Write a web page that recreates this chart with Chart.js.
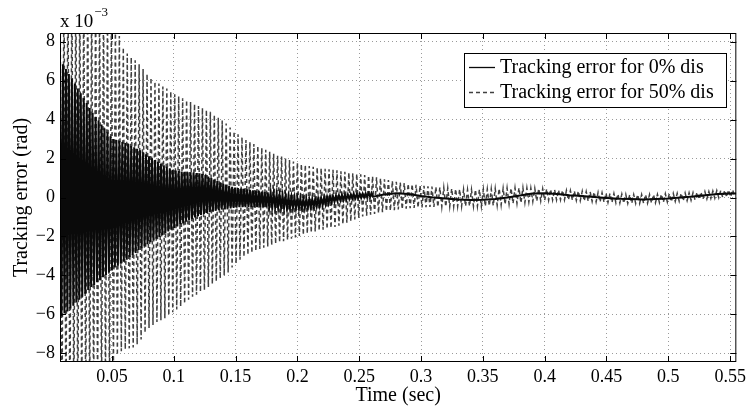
<!DOCTYPE html>
<html>
<head>
<meta charset="utf-8">
<script src="https://cdn.jsdelivr.net/npm/chart.js@4/dist/chart.umd.min.js"></script>
<style>
  html, body { margin: 0; padding: 0; background: #fff; }
  #wrap { width: 750px; height: 408px; }
</style>
</head>
<body>
<div id="wrap"><canvas id="errChart" width="750" height="408"></canvas></div>
<script>
// tracking error, units of 1e-3 rad

// 0% disturbance: oscillating part, a peak every 1.2 ms from t = 0.008 s
const solidStart = 0.008;
const solidStep = 0.0012;
const solidDense = [
  7.1, -6.1, 6.85, -5.95, 6.6, -5.85, 6.35, -5.7, 6.1, -5.55,
  5.85, -5.4, 5.6, -5.25, 5.35, -5.1, 5.1, -4.95, 4.85, -4.75,
  4.6, -4.6, 4.35, -4.5, 4.15, -4.35, 3.95, -4.25, 3.75, -4.1,
  3.55, -4.0, 3.35, -3.85, 3.15, -3.75, 3.0, -3.6, 2.95, -3.5,
  2.9, -3.4, 2.85, -3.3, 2.8, -3.2, 2.75, -3.05, 2.65, -2.95,
  2.58, -2.85, 2.5, -2.7, 2.42, -2.6, 2.32, -2.5, 2.22, -2.4,
  2.12, -2.3, 2.02, -2.2, 1.93, -2.12, 1.84, -2.03, 1.74, -1.94,
  1.65, -1.85, 1.58, -1.75, 1.5, -1.66, 1.43, -1.57, 1.39, -1.48,
  1.36, -1.4, 1.34, -1.33, 1.32, -1.25, 1.3, -1.18, 1.29, -1.1,
  1.28, -1.03, 1.26, -0.96, 1.24, -0.9, 1.2, -0.85, 1.15, -0.8,
  1.08, -0.75, 1.0, -0.72, 0.92, -0.68, 0.85, -0.65, 0.78, -0.62,
  0.7, -0.6, 0.65, -0.58, 0.6, -0.56, 0.55, -0.54, 0.51, -0.52,
  0.48, -0.5, 0.46, -0.5, 0.44, -0.5, 0.42, -0.5, 0.4, -0.5,
  0.37, -0.5, 0.35, -0.5, 0.33, -0.5, 0.3, -0.5, 0.28, -0.5,
  0.26, -0.5, 0.23, -0.5, 0.2, -0.51, 0.17, -0.52, 0.13, -0.53,
  0.1, -0.54, 0.07, -0.55, 0.04, -0.55, 0.02, -0.55, 0.0, -0.55,
  -0.03, -0.55, -0.05, -0.55, -0.07, -0.54, -0.08, -0.53, -0.09, -0.51,
  -0.08, -0.49, -0.07, -0.46, -0.05, -0.43, -0.02, -0.39, 0.0, -0.35,
  0.03, -0.3, 0.05, -0.26, 0.07, -0.22, 0.09, -0.18, 0.11, -0.15,
  0.13, -0.13, 0.14, -0.11, 0.15, -0.08, 0.16, -0.06, 0.17, -0.05,
  0.18, -0.03, 0.19, -0.02, 0.2, 0.0, 0.21, 0.02, 0.22, 0.03,
  0.23, 0.04
];
// 0% disturbance: settled part
const solidTailTimes = [
  0.27, 0.28, 0.29, 0.30, 0.31, 0.32, 0.33, 0.34, 0.35, 0.36,
  0.37, 0.38, 0.39, 0.40, 0.41, 0.42, 0.43, 0.44, 0.45, 0.46,
  0.47, 0.48, 0.49, 0.50, 0.51, 0.52, 0.53, 0.54, 0.55, 0.555
];
const solidTailValues = [
  0.15, 0.22, 0.18, 0.08, 0.0, -0.05, -0.1, -0.13, -0.12, -0.08,
  0.0, 0.1, 0.2, 0.22, 0.18, 0.12, 0.08, 0.03, -0.02, -0.06,
  -0.08, -0.1, -0.08, -0.05, 0.0, 0.05, 0.12, 0.18, 0.2, 0.2
];

// 50% disturbance: a peak every 1.6 ms from t = 0.008 s
const dashStart = 0.008;
const dashStep = 0.0016;
const dashedValues = [
  12, -12, 12, -12, 12, -12, 11.5, -11.5, 11.5, -11.5,
  11, -11, 11, -11, 11, -10.5, 10.5, -10.5, 10.5, -10,
  10, -10, 10, -9.5, 9.5, -9.5, 9.5, -8.8, 8.8, -8.1,
  8.3, -7.9, 7.7, -7.8, 7.4, -7.75, 7.2, -7.7, 7.05, -7.55,
  6.85, -7.3, 6.6, -6.95, 6.35, -6.7, 6.15, -6.55, 5.95, -6.4,
  5.85, -6.3, 5.7, -6.2, 5.6, -6.05, 5.45, -5.9, 5.3, -5.75,
  5.2, -5.6, 5.1, -5.45, 5.0, -5.25, 4.9, -5.1, 4.8, -5.0,
  4.7, -4.85, 4.6, -4.75, 4.5, -4.6, 4.4, -4.45, 4.25, -4.3,
  4.1, -4.15, 3.95, -4.0, 3.8, -3.85, 3.6, -3.6, 3.4, -3.4,
  3.25, -3.2, 3.1, -3.05, 2.95, -2.95, 2.85, -2.85, 2.75, -2.75,
  2.65, -2.65, 2.55, -2.58, 2.45, -2.52, 2.35, -2.45, 2.25, -2.38,
  2.15, -2.3, 2.1, -2.25, 2.0, -2.18, 1.92, -2.12, 1.85, -2.05,
  1.8, -1.98, 1.72, -1.92, 1.68, -1.85, 1.62, -1.8, 1.58, -1.75,
  1.55, -1.7, 1.5, -1.66, 1.48, -1.62, 1.45, -1.57, 1.43, -1.52,
  1.4, -1.45, 1.35, -1.37, 1.32, -1.3, 1.28, -1.22, 1.25, -1.13,
  1.22, -1.05, 1.19, -0.98, 1.16, -0.93, 1.13, -0.89, 1.09, -0.84,
  1.04, -0.8, 0.99, -0.75, 0.94, -0.71, 0.9, -0.68, 0.85, -0.65,
  0.8, -0.62, 0.77, -0.6, 0.74, -0.57, 0.71, -0.55, 0.68, -0.54,
  0.65, -0.52, 0.62, -0.51, 0.6, -0.5, 0.58, -0.49, 0.56, -0.48,
  0.54, -0.48, 0.52, -0.47, 0.5, -0.47, 0.48, -0.46, 0.46, -0.46,
  0.44, -0.45, 0.42, -0.45, 0.41, -0.45, 0.4, -0.45, 0.4, -0.45,
  0.4, -0.45, 0.41, -0.45, 0.42, -0.45, 0.43, -0.43, 0.44, -0.42,
  0.45, -0.4, 0.46, -0.38, 0.47, -0.35, 0.48, -0.33, 0.48, -0.31,
  0.49, -0.3, 0.5, -0.28, 0.5, -0.26, 0.49, -0.23, 0.48, -0.2,
  0.47, -0.19, 0.46, -0.17, 0.45, -0.15, 0.44, -0.14, 0.42, -0.13,
  0.41, -0.12, 0.39, -0.12, 0.37, -0.12, 0.36, -0.13, 0.35, -0.13,
  0.34, -0.15, 0.33, -0.16, 0.32, -0.18, 0.3, -0.19, 0.29, -0.2,
  0.28, -0.22, 0.26, -0.23, 0.24, -0.24, 0.22, -0.25, 0.21, -0.26,
  0.2, -0.27, 0.18, -0.28, 0.17, -0.29, 0.16, -0.3, 0.15, -0.3,
  0.15, -0.3, 0.15, -0.3, 0.15, -0.3, 0.15, -0.29, 0.15, -0.28,
  0.15, -0.27, 0.16, -0.26, 0.17, -0.25, 0.19, -0.23, 0.2, -0.22,
  0.21, -0.2, 0.21, -0.19, 0.22, -0.18, 0.23, -0.16, 0.24, -0.14,
  0.25, -0.12, 0.27, -0.1, 0.28, -0.09, 0.3, -0.07, 0.31, -0.05,
  0.33, -0.03, 0.35, -0.01, 0.36, 0.0, 0.37, 0.02, 0.39, 0.03,
  0.4, 0.05
];

const xTicks = [0.05, 0.1, 0.15, 0.2, 0.25, 0.3, 0.35, 0.4, 0.45, 0.5, 0.55];
const yTicks = [-8, -6, -4, -2, 0, 2, 4, 6, 8];
const seriesLabels = ["Tracking error for 0% dis", "Tracking error for 50% dis"];

const serif = '"Liberation Serif", "Times New Roman", serif';

const solidPoints = solidDense.map((v, i) => ({ x: solidStart + i * solidStep, y: v }))
  .concat(solidTailTimes.map((t, i) => ({ x: t, y: solidTailValues[i] })));
const dashedPoints = dashedValues.map((v, i) => ({ x: dashStart + i * dashStep, y: v }));

// frame, inward ticks, exponent and boxed legend, matlab style
const matlabBits = {
  id: "matlabBits",
  afterDatasetsDraw(chart) {
    const { ctx, chartArea: a, scales } = chart;
    const sx = scales.x, sy = scales.y;
    ctx.save();
    ctx.strokeStyle = "#000";
    ctx.lineWidth = 1;
    ctx.setLineDash([]);
    ctx.strokeRect(a.left + 0.5, a.top + 0.5, a.right - a.left - 1, a.bottom - a.top - 1);

    ctx.beginPath();
    xTicks.forEach(v => {
      const px = Math.round(sx.getPixelForValue(v)) + 0.5;
      ctx.moveTo(px, a.bottom); ctx.lineTo(px, a.bottom - 6);
      ctx.moveTo(px, a.top); ctx.lineTo(px, a.top + 6);
    });
    yTicks.forEach(v => {
      const py = Math.round(sy.getPixelForValue(v)) + 0.5;
      ctx.moveTo(a.left, py); ctx.lineTo(a.left + 6, py);
      ctx.moveTo(a.right, py); ctx.lineTo(a.right - 6, py);
    });
    ctx.stroke();

    // x 10^-3
    ctx.fillStyle = "#000";
    ctx.textBaseline = "alphabetic";
    ctx.textAlign = "left";
    ctx.font = "19px " + serif;
    ctx.fillText("x 10", a.left, a.top - 6);
    const w = ctx.measureText("x 10").width;
    ctx.font = "13px " + serif;
    ctx.fillText("\u22123", a.left + w + 1, a.top - 17);

    // legend
    const lx = 464, ly = 53, lw = 262, lh = 54;
    ctx.fillStyle = "#fff";
    ctx.fillRect(lx, ly, lw, lh);
    ctx.strokeRect(lx + 0.5, ly + 0.5, lw, lh);
    const rows = [ly + 14, ly + 39];
    chart.data.datasets.forEach((ds, i) => {
      ctx.beginPath();
      ctx.strokeStyle = ds.borderColor;
      ctx.lineWidth = 1.3;
      ctx.setLineDash(ds.borderDash || []);
      ctx.moveTo(lx + 5, rows[i] + 0.5);
      ctx.lineTo(lx + 31, rows[i] + 0.5);
      ctx.stroke();
      ctx.setLineDash([]);
      ctx.fillStyle = "#000";
      ctx.font = "20px " + serif;
      ctx.textBaseline = "middle";
      ctx.fillText(ds.label, lx + 36, rows[i] + 1);
    });
    ctx.restore();
  }
};

new Chart(document.getElementById("errChart"), {
  type: "line",
  data: {
    datasets: [
      {
        label: seriesLabels[0],
        data: solidPoints,
        borderColor: "#0a0a0a",
        borderWidth: 2,
        pointRadius: 0,
        tension: 0,
        clip: 0,
        order: 0
      },
      {
        label: seriesLabels[1],
        data: dashedPoints,
        borderColor: "#404040",
        borderWidth: 1.5,
        borderDash: [4, 3],
        pointRadius: 0,
        tension: 0,
        clip: 0,
        order: 1
      }
    ]
  },
  options: {
    responsive: false,
    animation: false,
    events: [],
    layout: { padding: { top: 33, right: 12, left: 0, bottom: 0 } },
    plugins: { legend: { display: false }, tooltip: { enabled: false } },
    scales: {
      x: {
        type: "linear",
        min: 0.008,
        max: 0.555,
        afterBuildTicks: s => { s.ticks = xTicks.map(v => ({ value: v })); },
        afterFit: s => { s.height = 46; },
        grid: { color: "#9a9a9a", lineWidth: 1, drawTicks: false },
        border: { display: false, dash: [1, 3] },
        ticks: {
          color: "#000",
          padding: 4,
          maxRotation: 0,
          font: { family: serif, size: 18 },
          callback: v => String(v)
        },
        title: {
          display: true,
          text: "Time (sec)",
          color: "#000",
          font: { family: serif, size: 20 },
          padding: { top: 0, bottom: 0 }
        }
      },
      y: {
        min: -8.45,
        max: 8.45,
        afterBuildTicks: s => { s.ticks = yTicks.map(v => ({ value: v })); },
        afterFit: s => { s.width = 60; },
        grid: { color: "#9a9a9a", lineWidth: 1, drawTicks: false },
        border: { display: false, dash: [1, 3] },
        ticks: {
          color: "#000",
          padding: 5,
          font: { family: serif, size: 18 },
          callback: v => (v < 0 ? "\u2212" + Math.abs(v) : String(v))
        },
        title: {
          display: true,
          text: "Tracking error (rad)",
          color: "#000",
          font: { family: serif, size: 20 },
          padding: { top: 10, bottom: 0 }
        }
      }
    }
  },
  plugins: [matlabBits]
});
</script>
</body>
</html>
